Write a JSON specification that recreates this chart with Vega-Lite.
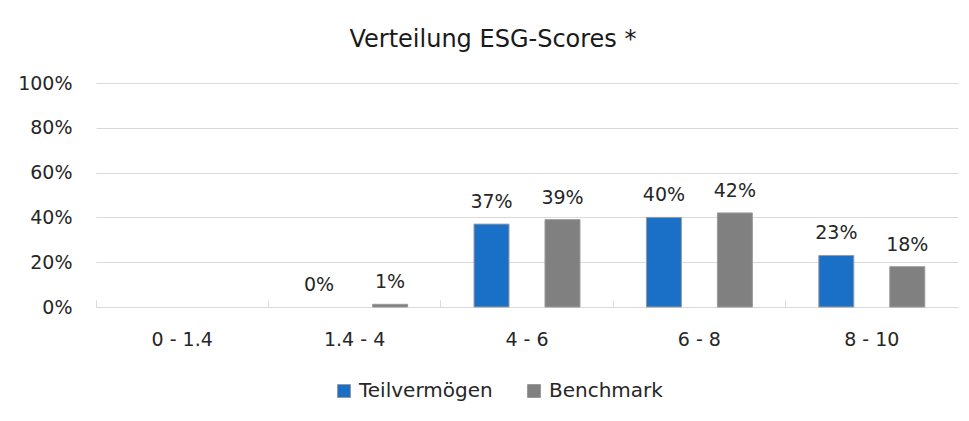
{
  "$schema": "https://vega.github.io/schema/vega-lite/v6.json",
  "width": 862,
  "height": 224,
  "autosize": {"type": "none"},
  "padding": {"left": 96, "top": 83, "right": 11, "bottom": 114},
  "background": "white",
  "title": {
    "text": "Verteilung ESG-Scores *",
    "font": "DejaVu Sans",
    "fontSize": 24,
    "fontWeight": "normal",
    "color": "#1a1a1a",
    "anchor": "middle",
    "dx": -34,
    "offset": 22
  },
  "data": {
    "values": [
      {"range": "1.4 - 4", "series": "Teilvermögen", "value": 0.0},
      {"range": "1.4 - 4", "series": "Benchmark", "value": 0.012},
      {"range": "4 - 6", "series": "Teilvermögen", "value": 0.37},
      {"range": "4 - 6", "series": "Benchmark", "value": 0.39},
      {"range": "6 - 8", "series": "Teilvermögen", "value": 0.40},
      {"range": "6 - 8", "series": "Benchmark", "value": 0.42},
      {"range": "8 - 10", "series": "Teilvermögen", "value": 0.23},
      {"range": "8 - 10", "series": "Benchmark", "value": 0.18}
    ]
  },
  "encoding": {
    "x": {
      "field": "range",
      "type": "nominal",
      "sort": null,
      "scale": {"domain": ["0 - 1.4", "1.4 - 4", "4 - 6", "6 - 8", "8 - 10"], "paddingInner": 0, "paddingOuter": 0},
      "axis": {
        "title": null,
        "labelAngle": 0,
        "labelFont": "DejaVu Sans",
        "labelFontSize": 19,
        "labelColor": "#262626",
        "labelPadding": 30,
        "domainColor": "#d9d9d9",
        "tickColor": "#d9d9d9",
        "tickSize": -7,
        "bandPosition": 0,
        "grid": false
      }
    },
    "xOffset": {
      "field": "series",
      "type": "nominal",
      "sort": ["Teilvermögen", "Benchmark"],
      "scale": {"paddingInner": 0.507, "paddingOuter": 0.468}
    },
    "y": {
      "field": "value",
      "type": "quantitative",
      "scale": {"domain": [0, 1]},
      "axis": {
        "title": null,
        "format": ".0%",
        "values": [0, 0.2, 0.4, 0.6, 0.8, 1],
        "labelFont": "DejaVu Sans",
        "labelFontSize": 19,
        "labelColor": "#262626",
        "labelPadding": 24,
        "domain": false,
        "ticks": false,
        "gridColor": "#d9d9d9",
        "gridWidth": 1
      }
    }
  },
  "layer": [
    {
      "mark": {"type": "bar", "strokeWidth": 1},
      "encoding": {
        "stroke": {"condition": {"test": "datum.value == 0", "value": null}, "value": "#9a9a9a"},
        "color": {
          "field": "series",
          "type": "nominal",
          "sort": ["Teilvermögen", "Benchmark"],
          "scale": {"domain": ["Teilvermögen", "Benchmark"], "range": ["#1a70c6", "#808080"]},
          "legend": {
            "title": null,
            "orient": "none",
            "direction": "horizontal",
            "legendX": 238,
            "legendY": 298,
            "symbolType": "square",
            "symbolSize": 169,
            "symbolStrokeColor": "#9a9a9a",
            "symbolStrokeWidth": 1,
            "labelFont": "DejaVu Sans",
            "labelFontSize": 20,
            "labelColor": "#262626",
            "labelOffset": 5,
            "columnPadding": 31
          }
        }
      }
    },
    {
      "mark": {"type": "text", "baseline": "alphabetic", "dy": -16, "font": "DejaVu Sans", "fontSize": 19, "color": "#262626"},
      "encoding": {
        "text": {"field": "value", "type": "quantitative", "format": ".0%"}
      }
    }
  ],
  "config": {
    "view": {"stroke": null}
  }
}
